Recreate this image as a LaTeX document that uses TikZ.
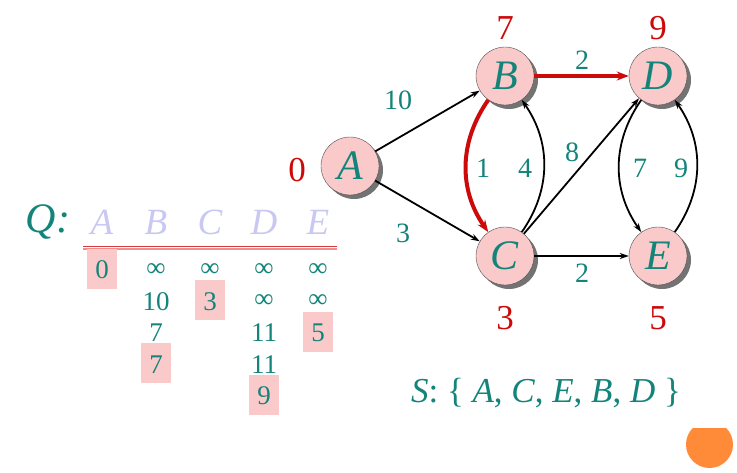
\documentclass[tikz,border=0pt]{standalone}
\usepackage{fontspec}
\setmainfont{Liberation Serif}
\usepackage{xcolor}
\usetikzlibrary{arrows,arrows.meta,shapes,positioning,shadows}
\definecolor{qteal}{RGB}{20,132,122}
\definecolor{qred}{RGB}{205,10,10}
\definecolor{qpink}{RGB}{250,202,202}
\definecolor{qlav}{RGB}{200,200,242}
\definecolor{qorange}{RGB}{255,138,56}
\newcommand{\fs}[1]{\fontsize{#1}{#1}\selectfont}

\begin{document}
\begin{tikzpicture}[x=1pt,y=-1pt,
  vertex/.style={circle,draw=black!70,thin,fill=qpink,minimum size=58pt,inner sep=0pt,
    text=qteal,font=\fs{42}\itshape,
    drop shadow={shadow xshift=4pt,shadow yshift=-4pt,fill=black!55,opacity=1}},
  wlabel/.style={text=qteal,font=\fs{28}},
  dist/.style={text=qred,font=\fs{35}},
  arc/.style={-{Stealth[length=9pt,width=6pt]},line width=1.8pt},
  redarc/.style={-{Stealth[length=12pt,width=9pt]},line width=4pt,qred},
  qhead/.style={text=qlav,font=\fs{37}\itshape},
  entry/.style={text=qteal,font=\fs{27}},
  hl/.style={fill=qpink}]
\useasboundingbox (0,0) rectangle (737,472);

\node[vertex] (A) at (350,166) {A};
\node[vertex] (B) at (505,76) {B};
\node[vertex] (C) at (505,256) {C};
\node[vertex] (D) at (658,76) {D};
\node[vertex] (E) at (658,256) {E};

% edges
\draw[arc] (A) -- (B);
\draw[arc] (A) -- (C);
\draw[arc] (C) -- (D);
\draw[arc] (C) -- (E);
\draw[arc] (C.55) to[bend right=35] (B.-55);
\draw[arc] (D.235) to[bend right=35] (E.125);
\draw[arc] (E.55) to[bend right=35] (D.-55);
\draw[redarc] (B) -- (D);
\draw[redarc] (B.235) to[bend right=35] (C.125);

\node[wlabel] (wAB) at (398,100) {10};
\node[wlabel] (wAC) at (403,233) {3};
\node[wlabel] (wBD) at (582,60) {2};
\node[wlabel] (wBC) at (483,168) {1};
\node[wlabel] (wCB) at (525,168) {4};
\node[wlabel] (wCD) at (572,152) {8};
\node[wlabel] (wDE) at (640,168) {7};
\node[wlabel] (wED) at (681,168) {9};
\node[wlabel] (wCE) at (582,273) {2};

\node[dist] (dA) at (297,170) {0};
\node[dist] (dB) at (505,28) {7};
\node[dist] (dC) at (505,318) {3};
\node[dist] (dD) at (658,28) {9};
\node[dist] (dE) at (658,318) {5};

% queue
\node[text=qteal,font=\fs{42}\itshape] (Q) at (48,222) {Q:};
\foreach \l [count=\i] in {A,B,C,D,E}
  \node[qhead] (h\l) at (48+54*\i,222) {\l};
\draw[qred!80,line width=1.6pt] (83,246.5) -- (337,246.5);
\draw[qred!45,line width=1.6pt] (83,249) -- (337,249);
\foreach \c/\r in {1/1,3/2,5/3,2/4,4/5}
  \fill[hl] (33+54*\c,248.5+31.5*\r-31.5) rectangle ++(30,40);
\foreach \c/\r/\t in {1/1/0, 2/1/∞,2/2/10,2/3/7,2/4/7, 3/1/∞,3/2/3,
    4/1/∞,4/2/∞,4/3/11,4/4/11,4/5/9, 5/1/∞,5/2/∞,5/3/5}
  \node[entry] (q\c\r) at (48+54*\c,238.5+31.5*\r) {\t};

\node[text=qteal,font=\fs{35}] (S) at (546,393)
  {\textit{S}: \{ \textit{A}, \textit{C}, \textit{E}, \textit{B}, \textit{D} \}};

\begin{scope}
\clip (680,428) rectangle (737,472);
\fill[qorange] (709.5,444.5) circle (23.5);
\end{scope}
\end{tikzpicture}
\end{document}
